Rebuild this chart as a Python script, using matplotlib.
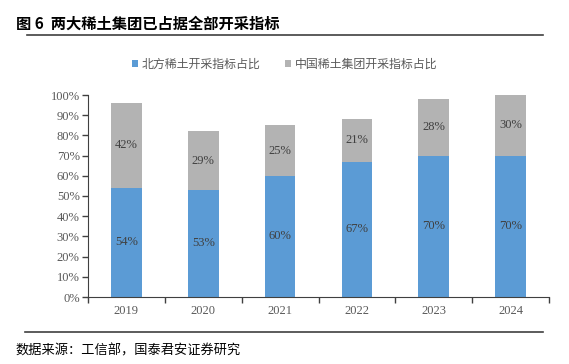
import numpy as np
import matplotlib
matplotlib.use('Agg')
import matplotlib.pyplot as plt
from matplotlib.lines import Line2D

plt.rcParams['font.family'] = ['Liberation Serif', 'Noto Sans CJK SC']

years = ['2019', '2020', '2021', '2022', '2023', '2024']
north = [54, 53, 60, 67, 70, 70]      # 北方稀土
china = [42, 29, 25, 21, 28, 30]      # 中国稀土集团
legend_names = ['北方稀土开采指标占比', '中国稀土集团开采指标占比']

blue = '#5B9BD5'
gray = '#B3B3B3'
txt = '#404040'

fig = plt.figure(figsize=(5.69, 3.64), dpi=100)
ax = fig.add_axes([88/569, 1-297/364, 461/569, 202/364])

x = np.arange(len(years))
b1 = ax.bar(x, north, width=0.4, color=blue, label=legend_names[0])
b2 = ax.bar(x, china, width=0.4, bottom=north, color=gray, label=legend_names[1])

for i in range(len(years)):
    ax.text(x[i], north[i]/2, f'{north[i]}%', ha='center', va='center', fontsize=9, color=txt)
    ax.text(x[i], north[i] + china[i]/2, f'{china[i]}%', ha='center', va='center', fontsize=9, color=txt)

ax.set_xlim(-0.5, len(years)-0.5)
ax.set_ylim(0, 100)
ax.set_yticks(range(0, 101, 10))
ax.set_yticklabels([f'{v}%' for v in range(0, 101, 10)], fontsize=9, color='#595959')
ax.set_xticks(x)
ax.set_xticklabels(years, fontsize=9, color='#595959')
ax.set_xticks(np.arange(-0.5, len(years), 1), minor=True)
ax.tick_params(axis='x', which='major', length=0, pad=6)
ax.tick_params(axis='x', which='minor', length=4, width=1, color='#404040', direction='out')
ax.tick_params(axis='y', length=4, width=1, color='#404040', direction='out', pad=2)
for s in ['top', 'right']:
    ax.spines[s].set_visible(False)
ax.spines['left'].set_color('#404040')
ax.spines['bottom'].set_color('#404040')

leg = fig.legend(handles=[b1, b2], loc='center', bbox_to_anchor=(0.5, 1-64/364), ncol=2,
                 frameon=False, handlelength=0.55, handleheight=0.55,
                 handletextpad=0.3, columnspacing=2.0,
                 prop={'family': ['Noto Sans CJK SC'], 'size': 8.6})
for t in leg.get_texts():
    t.set_color('#595959')

fig.text(16/569, 1-24/364, '图 6  两大稀土集团已占据全部开采指标', fontsize=11, fontweight='bold',
         va='center', ha='left', family=['Noto Sans CJK SC'])
fig.add_artist(Line2D([27/569, 543/569], [1-35/364, 1-35/364], color='#404040', lw=1.2))
fig.add_artist(Line2D([25/569, 543/569], [1-332/364, 1-332/364], color='#404040', lw=1.2))
fig.text(15/569, 1-351/364, '数据来源：工信部，国泰君安证券研究', fontsize=9.5,
         va='center', ha='left', family=['Noto Sans CJK SC'])

fig.savefig('out.png', dpi=100)
